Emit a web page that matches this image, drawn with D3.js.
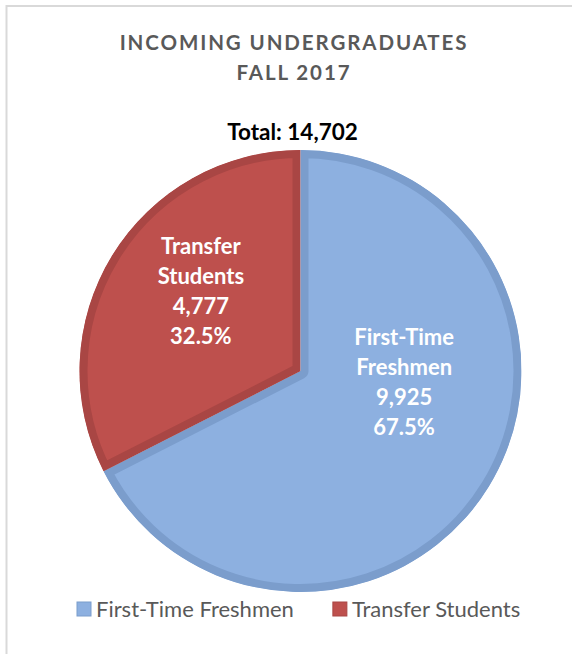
<!DOCTYPE html>
<html lang="en">
<head>
<meta charset="UTF-8">
<title>Incoming Undergraduates Fall 2017</title>
<style>
  body { margin: 0; background: #fff; }
  svg { display: block; font-family: Lato, "Open Sans", sans-serif; }
</style>
</head>
<body>
<div id="chart"></div>
<script src="https://d3js.org/d3.v7.min.js"></script>
<script>
// data
var categories = ['First-Time Freshmen', 'Transfer Students']
var labelLines = [['First-Time', 'Freshmen'], ['Transfer', 'Students']]
var counts = [9925, 4777]
var percents = ['67.5%', '32.5%']
var totalLabel = 'Total: 14,702'
var titleLines = ['INCOMING UNDERGRADUATES', 'FALL 2017']

var width = 572, height = 654
var cx = 300.5, cy = 371, radius = 221
var fills = ['#8db0e0', '#be504d']
var bevels = ['#7b9dcc', '#a94644']
// nudges for the in-slice labels (Excel "best fit" placement)
var labelNudge = [[0, -52], [4, -15]]

var svg = d3.select('#chart').append('svg')
  .attr('width', width)
  .attr('height', height)

// chart frame
svg.append('rect')
  .attr('x', 6.5).attr('y', 6)
  .attr('width', 700).attr('height', 700)
  .attr('fill', 'none')
  .attr('stroke', '#d9d9d9')
  .attr('stroke-width', 2)

// title
svg.append('text')
  .attr('x', 293)
  .attr('text-anchor', 'middle')
  .attr('fill', '#595959')
  .attr('font-weight', 'bold')
  .attr('font-size', 20.5)
  .attr('letter-spacing', 1.9)
  .selectAll('tspan')
  .data(titleLines)
  .enter()
  .append('tspan')
    .attr('x', 294)
    .attr('y', function (d, i) { return 50 + i * 30 })
    .text(function (d) { return d })

svg.append('text')
  .attr('x', 292.5)
  .attr('y', 140)
  .attr('text-anchor', 'middle')
  .attr('fill', '#000')
  .attr('font-weight', 'bold')
  .attr('font-size', 22.5)
  .text(totalLabel)

// pie
var pie = d3.pie().sort(null).value(function (d) { return d })
var arcs = pie(counts)
var arc = d3.arc().innerRadius(0).outerRadius(radius)
var labelArc = d3.arc().innerRadius(0).outerRadius(radius * 1.1)

var defs = svg.append('defs')
defs.selectAll('clipPath')
  .data(arcs)
  .enter()
  .append('clipPath')
    .attr('id', function (d, i) { return 'slice' + i })
  .append('path')
    .attr('d', arc)

var g = svg.append('g')
  .attr('transform', 'translate(' + cx + ',' + cy + ')')

g.selectAll('path.slice')
  .data(arcs)
  .enter()
  .append('path')
    .attr('class', 'slice')
    .attr('d', arc)
    .attr('fill', function (d, i) { return fills[i] })
    .attr('stroke', function (d, i) { return bevels[i] })
    .attr('stroke-width', 16)
    .attr('stroke-linejoin', 'round')
    .attr('clip-path', function (d, i) { return 'url(#slice' + i + ')' })

// slice labels
g.selectAll('text.label')
  .data(arcs)
  .enter()
  .append('text')
    .attr('class', 'label')
    .attr('text-anchor', 'middle')
    .attr('fill', '#fff')
    .attr('font-weight', 'bold')
    .attr('font-size', 22)
    .each(function (d, i) {
      var c = labelArc.centroid(d)
      var x = c[0] + labelNudge[i][0], y = c[1] + labelNudge[i][1]
      var lines = labelLines[i].concat([d3.format(',')(counts[i]), percents[i]])
      d3.select(this).selectAll('tspan')
        .data(lines)
        .enter()
        .append('tspan')
          .attr('x', x)
          .attr('y', function (t, j) { return y + (j - 1.5) * 30 + 7 })
          .text(function (t) { return t })
    })

// legend
var legend = svg.append('g').attr('transform', 'translate(77,602)')
var lx = 0
categories.forEach(function (name, i) {
  var item = legend.append('g').attr('transform', 'translate(' + lx + ',0)')
  item.append('rect')
    .attr('width', 14).attr('height', 14)
    .attr('fill', fills[i])
    .attr('stroke', bevels[i])
  var t = item.append('text')
    .attr('x', 19)
    .attr('y', 14.5)
    .attr('fill', '#595959')
    .attr('font-size', 22)
    .text(name)
  lx += 19 + t.node().getComputedTextLength() + 39
})
</script>
</body>
</html>
